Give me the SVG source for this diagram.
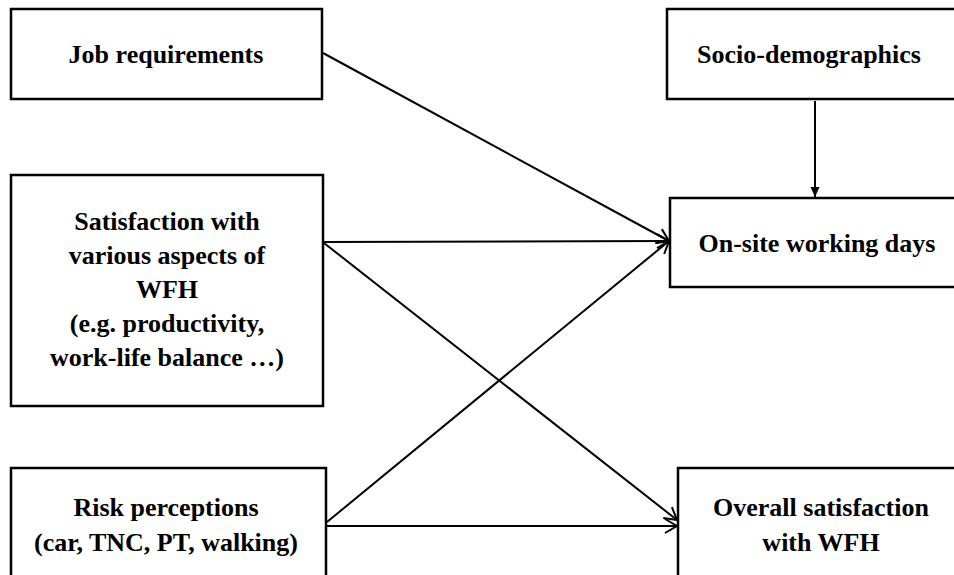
<svg xmlns="http://www.w3.org/2000/svg" width="954" height="575" viewBox="0 0 954 575">
<style>
.box{fill:#fff;stroke:#000;stroke-width:2.5}
.t{font-family:"Liberation Serif","Times New Roman",serif;font-weight:bold;font-size:26px;fill:#000;text-anchor:middle}
.c{fill:none;stroke:#000;stroke-width:2}
</style>
<defs>
<marker id="open" markerUnits="userSpaceOnUse" viewBox="-14 -9 16 18" refX="0" refY="0" markerWidth="16" markerHeight="18" orient="auto">
<path d="M-12,-7 L0,0 L-12,7" fill="none" stroke="#000" stroke-width="2"/>
</marker>
<marker id="fill" markerUnits="userSpaceOnUse" viewBox="-12 -6 13 12" refX="0" refY="0" markerWidth="13" markerHeight="12" orient="auto">
<path d="M-10,-4.5 L0,0 L-10,4.5 Z" fill="#000"/>
</marker>
</defs>
<rect width="954" height="575" fill="#fff"/>
<g id="job">
<rect class="box" x="11" y="9" width="311" height="90"/>
<text class="t" x="166" y="63">Job requirements</text>
</g>
<g id="satisfaction">
<rect class="box" x="11" y="175" width="312" height="231"/>
<text class="t" x="167" y="230">Satisfaction with</text>
<text class="t" x="167" y="264">various aspects of</text>
<text class="t" x="167" y="298">WFH</text>
<text class="t" x="167" y="332">(e.g. productivity,</text>
<text class="t" x="167" y="366">work-life balance …)</text>
</g>
<g id="risk">
<rect class="box" x="11" y="468" width="315" height="120"/>
<text class="t" x="166" y="516">Risk perceptions</text>
<text class="t" x="166" y="551">(car, TNC, PT, walking)</text>
</g>
<g id="socio">
<rect class="box" x="667" y="9" width="300" height="90"/>
<text class="t" x="809" y="63">Socio-demographics</text>
</g>
<g id="onsite">
<rect class="box" x="670" y="198" width="300" height="89"/>
<text class="t" x="817" y="252">On-site working days</text>
</g>
<g id="overall">
<rect class="box" x="678" y="468" width="300" height="120"/>
<text class="t" x="821" y="516">Overall satisfaction</text>
<text class="t" x="821" y="551">with WFH</text>
</g>
<g id="connectors">
<line class="c" x1="323" y1="53" x2="669" y2="241" marker-end="url(#open)"/>
<line class="c" x1="324" y1="242" x2="669" y2="241" marker-end="url(#open)"/>
<line class="c" x1="327" y1="522" x2="669" y2="241" marker-end="url(#open)"/>
<line class="c" x1="324" y1="243" x2="677" y2="520" marker-end="url(#open)"/>
<line class="c" x1="327" y1="526" x2="677" y2="526" marker-end="url(#open)"/>
<line class="c" x1="815" y1="101" x2="815" y2="197" marker-end="url(#fill)"/>
</g>
</svg>
